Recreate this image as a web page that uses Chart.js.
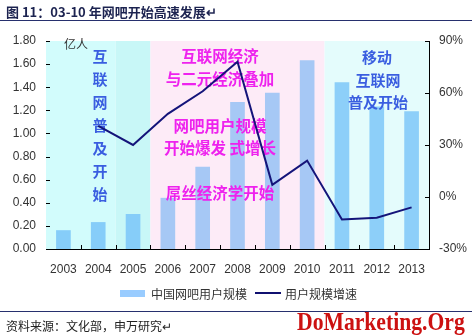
<!DOCTYPE html>
<html>
<head>
<meta charset="utf-8">
<script src="https://cdn.jsdelivr.net/npm/chart.js@4.4.0/dist/chart.umd.min.js"></script>
<style>
  html, body { margin: 0; padding: 0; background: #fff; }
  #wrap { position: relative; width: 472px; height: 336px; overflow: hidden; font-family: "Noto Sans CJK SC", sans-serif; }
  #c { position: absolute; left: 0; top: 0; }
  .abs { position: absolute; white-space: nowrap; }
  #title { left: 6px; top: 2px; font-size: 13px; font-weight: bold; color: #1c2350; }
  #rule1 { left: 0; top: 20px; width: 472px; height: 0; border-top: 1.5px solid #27306e; }
  #rule2 { left: 0; top: 311px; width: 472px; height: 0; border-top: 1px solid #27306e; }
  #source { left: 6px; top: 317px; font-size: 12px; color: #222; }
  #mark { left: 297px; top: 308px; font-family: "Liberation Serif", serif; font-weight: bold; font-size: 25px; color: #cc1111; transform-origin: 0 0; }
  .leg { top: 285px; font-size: 12px; color: #333; }
  #legBox { left: 120px; top: 290px; width: 25px; height: 7px; background: #99ccff; }
  #legLine { left: 255px; top: 292px; width: 26px; height: 0; border-top: 2px solid #101070; }
</style>
</head>
<body>
<div id="wrap">
  <canvas id="c" width="472" height="336"></canvas>
  <div id="title" class="abs">图 11：03-10 年网吧开始高速发展↵</div>
  <div id="rule1" class="abs"></div>
  <div id="legBox" class="abs"></div>
  <div class="abs leg" style="left:151px;">中国网吧用户规模</div>
  <div id="legLine" class="abs"></div>
  <div class="abs leg" style="left:285px;">用户规模增速</div>
  <div id="rule2" class="abs"></div>
  <div id="source" class="abs">资料来源：文化部，申万研究↵</div>
  <div id="mark" class="abs">DoMarketing.Org</div>
</div>
<script>
/* ---------- data ---------- */
const years = ["2003", "2004", "2005", "2006", "2007", "2008", "2009", "2010", "2011", "2012", "2013"];
const users = [0.16, 0.23, 0.30, 0.44, 0.71, 1.27, 1.35, 1.63, 1.44, 1.23, 1.19];     // 亿人
const growth = [null, 41, 30, 48, 61, 78, 7, 21, -13, -12, -6];                     // %
const leftTicks = [0, 0.2, 0.4, 0.6, 0.8, 1.0, 1.2, 1.4, 1.6, 1.8];
const rightTicks = [-30, 0, 30, 60, 90];

/* ---------- look ---------- */
const barColors = years.map((y, i) => i < 3 ? "#86cdf9" : (i < 8 ? "#a6c8f5" : "#8dcff9"));
const bands = [
    { from: 0, to: 2, color: "#d2fcfc" },
    { from: 2, to: 3, color: "#c8f7f7" },
    { from: 3, to: 8, color: "#fdebf7" },
    { from: 8, to: 11, color: "#e4fcfc" }
];
const CJK = '"Noto Sans CJK SC", sans-serif';
const LAT = '"Liberation Sans", Arial, sans-serif';

// squeeze the watermark into its box
const mark = document.getElementById("mark");
mark.style.transform = "scaleX(" + (168 / mark.offsetWidth).toFixed(3) + ")";

// background bands behind the bars
const bandPlugin = {
    id: "bands",
    beforeDatasetsDraw(chart) {
        const { ctx, chartArea: a, scales } = chart;
        const x = scales.x;
        const half = (x.getPixelForValue(1) - x.getPixelForValue(0)) / 2;
        ctx.save();
        bands.forEach(b => {
            const x0 = x.getPixelForValue(b.from) - half;
            const x1 = x.getPixelForValue(b.to) - half;
            ctx.fillStyle = b.color;
            ctx.fillRect(x0, a.top, x1 - x0, a.bottom - a.top);
        });
        ctx.restore();
    }
};

// text notes go on top of the bars, under the line
function drawNotes(ctx) {
    ctx.save();
    ctx.textAlign = "center";
    ctx.textBaseline = "middle";

    ctx.font = "12px " + CJK;
    ctx.fillStyle = "#333";
    ctx.fillText("亿人", 76, 44);

    ctx.font = "bold 15px " + CJK;
    ctx.fillStyle = "#3a5ee0";
    const vert = "互联网普及开始".split("");
    vert.forEach((ch, i) => ctx.fillText(ch, 100, 56 + i * 23));

    ctx.fillText("移动", 377, 57);
    ctx.fillText("互联网", 378, 80);
    ctx.fillText("普及开始", 378, 102);

    ctx.font = "bold 15.5px " + CJK;
    ctx.fillStyle = "#ee22ee";
    ctx.fillText("互联网经济", 220, 56);
    ctx.fillText("与二元经济叠加", 220, 79);
    ctx.fillText("网吧用户规模", 220, 126);
    ctx.fillText("开始爆发 式增长", 220, 148);
    ctx.fillText("屌丝经济学开始", 220, 193);
    ctx.restore();
}

// inward tick marks on all three axes
function drawTicks(chart) {
    const { ctx, chartArea: a, scales } = chart;
    ctx.save();
    ctx.strokeStyle = "#000";
    ctx.lineWidth = 1;
    ctx.beginPath();
    leftTicks.forEach(v => {
        const y = Math.round(scales.y.getPixelForValue(v)) + 0.5;
        ctx.moveTo(a.left, y); ctx.lineTo(a.left + 4, y);
    });
    rightTicks.forEach(v => {
        const y = Math.round(scales.y1.getPixelForValue(v)) + 0.5;
        ctx.moveTo(a.right, y); ctx.lineTo(a.right - 4, y);
    });
    const half = (scales.x.getPixelForValue(1) - scales.x.getPixelForValue(0)) / 2;
    for (let i = 1; i < years.length; i++) {
        const x = Math.round(scales.x.getPixelForValue(i) - half) + 0.5;
        ctx.moveTo(x, a.bottom); ctx.lineTo(x, a.bottom - 4);
    }
    ctx.stroke();
    ctx.restore();
}

const notePlugin = {
    id: "notes",
    afterDatasetDraw(chart, args) {
        if (args.meta.type === "bar") drawNotes(chart.ctx);
    },
    afterDraw(chart) {
        drawTicks(chart);
    }
};

new Chart(document.getElementById("c").getContext("2d"), {
    data: {
        labels: years,
        datasets: [
            {
                type: "line",
                label: "用户规模增速",
                data: growth,
                yAxisID: "y1",
                borderColor: "#14147a",
                borderWidth: 2,
                pointRadius: 0,
                tension: 0,
                order: 1
            },
            {
                type: "bar",
                label: "中国网吧用户规模",
                data: users,
                yAxisID: "y",
                backgroundColor: barColors,
                barThickness: 14,
                order: 2
            }
        ]
    },
    options: {
        responsive: false,
        animation: false,
        devicePixelRatio: 1,
        layout: { padding: { top: 41, left: 0, right: 0, bottom: 0 } },
        plugins: { legend: { display: false }, tooltip: { enabled: false } },
        scales: {
            x: {
                offset: true,
                grid: { display: false, drawTicks: false },
                border: { display: true, color: "#000", width: 1 },
                ticks: { color: "#333", font: { family: LAT, size: 12 }, padding: 13, maxRotation: 0, autoSkip: false },
                afterFit(s) { s.height = 87; }
            },
            y: {
                position: "left",
                min: 0, max: 1.8,
                afterBuildTicks(s) { s.ticks = leftTicks.map(v => ({ value: v })); },
                grid: { display: false, drawTicks: false },
                border: { display: true, color: "#000", width: 1 },
                ticks: { color: "#333", font: { family: LAT, size: 12 }, padding: 10, callback: v => v.toFixed(2) },
                afterFit(s) { s.width = 46; }
            },
            y1: {
                position: "right",
                min: -30, max: 90,
                afterBuildTicks(s) { s.ticks = rightTicks.map(v => ({ value: v })); },
                grid: { display: false, drawTicks: false },
                border: { display: true, color: "#000", width: 1 },
                ticks: { color: "#333", font: { family: LAT, size: 12 }, padding: 10, callback: v => v + "%" },
                afterFit(s) { s.width = 43; }
            }
        }
    },
    plugins: [bandPlugin, notePlugin]
});
</script>
</body>
</html>
